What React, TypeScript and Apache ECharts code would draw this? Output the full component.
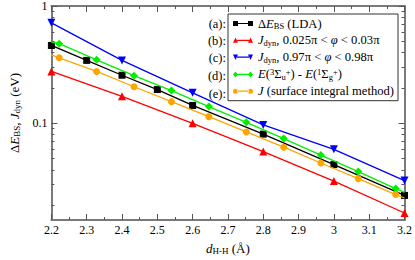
import React, { useEffect, useRef } from "react";
import * as echarts from "echarts";

const F = "Liberation Serif";

// ---- data ----
const blackX = [2.2, 2.3, 2.4, 2.5, 2.6, 2.8, 3.0, 3.2];
const blackY = [0.461, 0.344, 0.257, 0.194, 0.142, 0.0809, 0.0445, 0.0243];
const redX = [2.2, 2.4, 2.6, 2.8, 3.0, 3.2];
const redY = [0.277, 0.17, 0.1, 0.0574, 0.0322, 0.0172];
const blueX = [2.2, 2.4, 2.6, 2.8, 3.0, 3.2];
const blueY = [0.719, 0.344, 0.182, 0.097, 0.06, 0.0325];
const greenX = [2.222, 2.328, 2.434, 2.54, 2.646, 2.752, 2.858, 2.963, 3.069, 3.175];
const greenY = [0.477, 0.348, 0.255, 0.19, 0.139, 0.102, 0.0741, 0.0536, 0.0388, 0.0278];
const orangeX = [2.222, 2.328, 2.434, 2.54, 2.646, 2.752, 2.858, 2.963, 3.069, 3.175];
const orangeY = [0.362, 0.277, 0.205, 0.153, 0.114, 0.0845, 0.0626, 0.0459, 0.0338, 0.0247];
// fitted-line end points (no marker) for green and orange
const greenEnds = [[2.2, 0.491], [3.2, 0.0258]];
const orangeEnds = [[2.2, 0.383], [3.2, 0.0231]];

const yMajor = [0.1, 1];
const yMinor = [0.02, 0.03, 0.04, 0.05, 0.06, 0.07, 0.08, 0.09, 0.2, 0.3, 0.4, 0.5, 0.6, 0.7, 0.8, 0.9];
const legendKeys = ["a", "b", "c", "d", "e"];
const legendTags = ["(a):", "(b):", "(c):", "(d):", "(e):"];

const legendText: Record<string, string> = {
  a: "{n|Δ}{i|E}{s|BS}{n| (LDA)}",
  b: "{i|J}{s|dyn}{n|, 0.025π < }{i|φ}{n| < 0.03π}",
  c: "{i|J}{s|dyn}{n|, 0.97π < }{i|φ}{n| < 0.98π}",
  d: "{i|E}{n|(}{p|3}{n|Σ}{s|u}{p|+}{n|) - }{i|E}{n|(}{p|1}{n|Σ}{s|g}{p|+}{n|)}",
  e: "{i|J}{n| (surface integral method)}",
};

const rich = (fs: number, sfs: number, lh: number) => ({
  n: { fontFamily: F, fontSize: fs, lineHeight: lh, color: "#000" },
  i: { fontFamily: F, fontSize: fs, fontStyle: "italic", lineHeight: lh, color: "#000" },
  s: { fontFamily: F, fontSize: sfs, lineHeight: sfs, verticalAlign: "bottom", color: "#000" },
  p: { fontFamily: F, fontSize: sfs, lineHeight: sfs, verticalAlign: "top", color: "#000" },
});

const ICON_LINE = "M0,0M20,8M4,3.4h12v1.2h-12z";
const icons = [
  "path://" + ICON_LINE + "M0,1.5h5v5h-5zM15,1.5h5v5h-5z",
  "path://" + ICON_LINE + "M0,6.5L2.5,1.2L5,6.5zM15,6.5L17.5,1.2L20,6.5z",
  "path://" + ICON_LINE + "M0,1.5L5,1.5L2.5,6.8zM15,1.5L20,1.5L17.5,6.8z",
  "path://" + ICON_LINE + "M2.5,1L5,4L2.5,7L0,4zM17.5,1L20,4L17.5,7L15,4z",
  "path://" + ICON_LINE + "M0,4a2.5,2.5 0 1,0 5,0a2.5,2.5 0 1,0 -5,0zM15,4a2.5,2.5 0 1,0 5,0a2.5,2.5 0 1,0 -5,0z",
];
const colors = ["#000000", "#ff0000", "#0000ff", "#00ee00", "#ffa500"];

const zip = (xs: number[], ys: number[]) => xs.map((x, i) => [x, ys[i]]);
const noSym = (p: number[]) => ({ value: p, symbol: "none" });

const AX = "#7a7a7a";

export default function App() {
  const ref = useRef<HTMLDivElement>(null);
  useEffect(() => {
    const chart = echarts.init(ref.current!, undefined, { renderer: "svg" });
    const xCommon = {
      type: "value",
      min: 2.2,
      max: 3.2,
      interval: 0.1,
      axisLine: { show: true, onZero: false, lineStyle: { color: AX, width: 2 } },
      axisTick: { show: true, inside: true, length: 6, lineStyle: { color: "#555", width: 1 } },
      minorTick: { show: true, splitNumber: 2, length: 3, lineStyle: { color: "#555", width: 1 } },
      splitLine: { show: false },
    };
    const yCommon = {
      type: "log",
      min: 0.015,
      max: 1,
      splitLine: { show: false },
      axisLabel: { show: false },
    };
    const lineSeries = (name: string, data: any[], i: number, symbol: string, size: number, rotate = 0) => ({
      name,
      type: "line",
      data,
      symbol,
      symbolSize: size,
      symbolRotate: rotate,
      color: colors[i],
      lineStyle: { color: colors[i], width: 1.3 },
      itemStyle: { color: colors[i], borderWidth: 0 },
      xAxisIndex: 0,
      yAxisIndex: 0,
      z: 3 + i,
    });
    const rowY = [24, 40.8, 57.6, 75.5, 94];
    chart.setOption({
      animation: false,
      grid: { left: 37, right: 8, top: 5, bottom: 32, containLabel: false },
      xAxis: [
        {
          ...xCommon,
          position: "bottom",
          axisLabel: { show: true, fontFamily: F, fontSize: 12, color: "#000", margin: 4 },
          name: "{i|d}{s|H-H}{n| (Å)}",
          nameLocation: "middle",
          nameGap: 21,
          nameTextStyle: { rich: rich(13, 9, 14) },
        },
        { ...xCommon, position: "top", axisLabel: { show: false } },
      ],
      yAxis: [
        {
          ...yCommon,
          position: "left",
          axisLine: { show: true, lineStyle: { color: AX, width: 2 } },
          axisTick: { show: true, inside: true, length: 6, customValues: yMajor, lineStyle: { color: "#555", width: 1 } },
          axisLabel: { show: true, customValues: yMajor, fontFamily: F, fontSize: 12, color: "#000", margin: 4, formatter: (v: number) => String(v) },
          name: "{n|Δ}{i|E}{s|BS}{n|, }{i|J}{s|dyn}{n| (eV)}",
          nameLocation: "middle",
          nameRotate: 90,
          nameGap: 22,
          nameTextStyle: { rich: rich(13, 9, 14) },
        },
        {
          ...yCommon,
          position: "left",
          axisLine: { show: false },
          axisTick: { show: true, inside: true, length: 3, customValues: yMinor, lineStyle: { color: "#555", width: 1 } },
        },
        {
          ...yCommon,
          position: "right",
          axisLine: { show: true, lineStyle: { color: AX, width: 2 } },
          axisTick: { show: true, inside: true, length: 6, customValues: yMajor, lineStyle: { color: "#555", width: 1 } },
        },
        {
          ...yCommon,
          position: "right",
          axisLine: { show: false },
          axisTick: { show: true, inside: true, length: 3, customValues: yMinor, lineStyle: { color: "#555", width: 1 } },
        },
      ],
      legend: {
        orient: "vertical",
        left: 228,
        top: 14,
        padding: [3, 4, 3, 5],
        itemGap: 3.3,
        itemWidth: 20,
        itemHeight: 8,
        selectedMode: false,
        backgroundColor: "#fff",
        borderColor: "#333",
        borderWidth: 1,
        itemStyle: { borderWidth: 0 },
        lineStyle: { width: 0 },
        data: legendKeys.map((k, i) => ({ name: k, icon: icons[i] })),
        formatter: (name: string) => legendText[name],
        textStyle: { rich: rich(12.6, 8.5, 14) },
      },
      graphic: legendTags.map((t, i) => ({
        type: "text",
        x: 226,
        y: rowY[i],
        z: 100,
        style: { text: t, fontFamily: F, fontSize: 12.5, fill: "#000", align: "right", verticalAlign: "middle" },
      })),
      series: [
        lineSeries("a", zip(blackX, blackY), 0, "rect", 7),
        lineSeries("b", zip(redX, redY), 1, "triangle", 8),
        lineSeries("c", zip(blueX, blueY), 2, "triangle", 8, 180),
        lineSeries("d", [noSym(greenEnds[0]), ...zip(greenX, greenY), noSym(greenEnds[1])], 3, "diamond", 8),
        lineSeries("e", [noSym(orangeEnds[0]), ...zip(orangeX, orangeY), noSym(orangeEnds[1])], 4, "circle", 7),
      ],
    });
    return () => chart.dispose();
  }, []);
  return <div ref={ref} style={{ position: "absolute", left: 0, top: 0, width: 415, height: 260 }} />;
}
